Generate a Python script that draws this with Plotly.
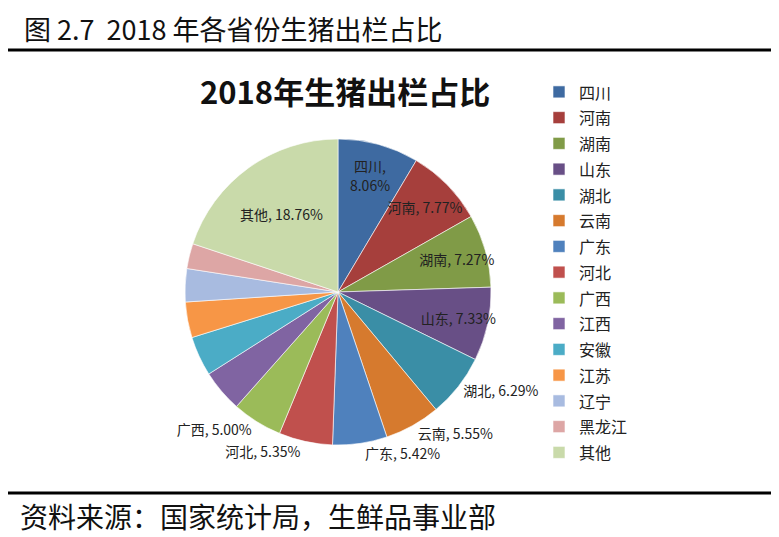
import plotly.graph_objects as go

provinces = ["四川", "河南", "湖南", "山东", "湖北", "云南", "广东", "河北",
             "广西", "江西", "安徽", "江苏", "辽宁", "黑龙江", "其他"]
shares = [8.06, 7.77, 7.27, 7.33, 6.29, 5.55, 5.42, 5.35,
          5.00, 4.20, 3.95, 3.55, 3.30, 2.50, 18.76]
labelled = [True, True, True, True, True, True, True, True,
            True, False, False, False, False, False, True]
colors = ["#3E6AA1", "#A63F3C", "#809B47", "#684F86", "#3A8EA6", "#D67A2E",
          "#4F81BD", "#C0504D", "#9BBB59", "#8064A2", "#4BACC6", "#F79646",
          "#A8BBE0", "#DDA6A5", "#C9DAAA"]
positions = ["inside", "inside", "inside", "inside", "outside", "outside",
             "outside", "outside", "outside", "none", "none", "none", "none",
             "none", "inside"]

texts = []
for name, v, show in zip(provinces, shares, labelled):
    if not show:
        texts.append("")
    elif name == "四川":
        texts.append(f"{name},<br>{v:.2f}%")
    else:
        texts.append(f"{name}, {v:.2f}%")

legend_names = [f'<span style="font-size:16px">{p}</span>' for p in provinces]

FONT = "Noto Sans CJK SC"
W, H = 771, 529          # page body has an 8px margin
OFF = 8


def px(x):
    return (x - OFF) / W


def py(y):
    return 1 - (y - OFF) / H


fig = go.Figure(go.Pie(
    labels=legend_names,
    values=shares,
    text=texts,
    textinfo="text",
    textposition=positions,
    insidetextorientation="horizontal",
    textfont=dict(family=FONT, size=15, color="#222222"),
    outsidetextfont=dict(family=FONT, size=14, color="#222222"),
    marker=dict(colors=colors, line=dict(color="white", width=0.6)),
    sort=False,
    direction="clockwise",
    rotation=0,
    domain=dict(x=[px(185), px(491)], y=[py(445), py(139)]),
    showlegend=True,
))

fig.update_layout(
    width=W, height=H,
    margin=dict(l=0, r=0, t=0, b=0),
    paper_bgcolor="white",
    plot_bgcolor="white",
    font=dict(family=FONT),
    uniformtext=dict(minsize=14, mode="show"),
    legend=dict(
        x=px(539), y=py(74), xanchor="left", yanchor="top",
        font=dict(family=FONT, size=17.5, color="#222222"),
        itemwidth=30, tracegroupgap=0,
        bgcolor="rgba(0,0,0,0)",
    ),
    annotations=[
        dict(text="图 2.7  2018 年各省份生猪出栏占比", x=px(22), y=py(28),
             xref="paper", yref="paper", xanchor="left", yanchor="middle",
             showarrow=False, font=dict(family=FONT, size=27, color="#111111")),
        dict(text="<b>2018年生猪出栏占比</b>", x=px(345), y=py(91),
             xref="paper", yref="paper", xanchor="center", yanchor="middle",
             showarrow=False, font=dict(family=FONT, size=31, color="#111111")),
        dict(text="资料来源：国家统计局，生鲜品事业部", x=px(18), y=py(516),
             xref="paper", yref="paper", xanchor="left", yanchor="middle",
             showarrow=False, font=dict(family=FONT, size=28, color="#111111")),
    ],
    shapes=[
        dict(type="line", xref="paper", yref="paper", x0=0, x1=1,
             y0=py(50), y1=py(50), line=dict(color="black", width=3)),
        dict(type="line", xref="paper", yref="paper", x0=0, x1=1,
             y0=py(493), y1=py(493), line=dict(color="black", width=3)),
    ],
)

fig.write_html("out.html")
